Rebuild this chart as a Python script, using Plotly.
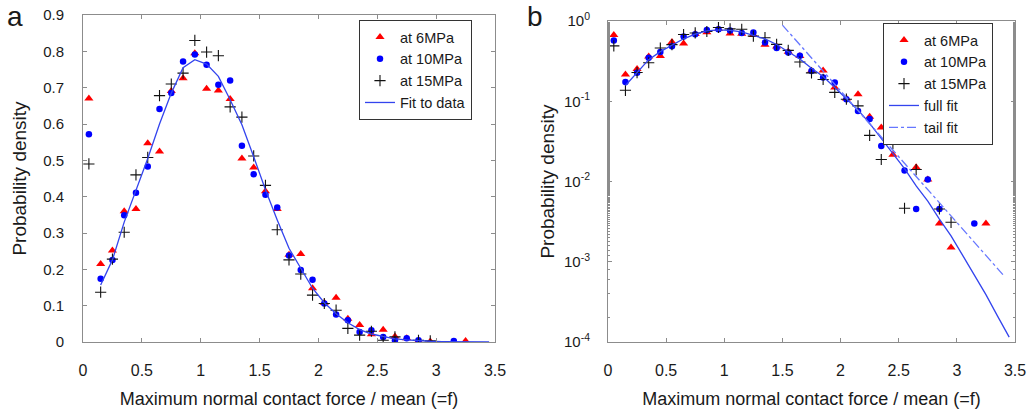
import plotly.graph_objects as go

# ---------------- data ----------------
f_bins = [0.05, 0.15, 0.25, 0.35, 0.45, 0.55, 0.65, 0.75, 0.85, 0.95,
          1.05, 1.15, 1.25, 1.35, 1.45, 1.55, 1.65, 1.75, 1.85, 1.95,
          2.05, 2.15, 2.25, 2.35, 2.45, 2.55, 2.65, 2.75, 2.85, 2.95,
          3.05, 3.15, 3.25]

p_6mpa = [0.67, 0.215, 0.252, 0.36, 0.366, 0.547, 0.524, 0.691, 0.726, 0.795,
          0.697, 0.692, 0.669, 0.505, 0.480, 0.415, 0.366, 0.240, 0.242, 0.148,
          0.108, 0.122, 0.064, 0.047, 0.0216, 0.034, 0.0151, 0.0106, 0.0030, 0.0015,
          None, None, 0.0030]

p_10mpa = [0.572, 0.174, 0.226, 0.349, 0.411, 0.483, 0.641, 0.685, 0.772, 0.791,
           0.763, 0.708, 0.720, 0.540, 0.462, 0.405, 0.370, 0.238, 0.198, 0.171,
           0.106, 0.0757, 0.060, 0.0277, 0.0326, 0.0137, 0.00455, 0.0106, 0.00455, None,
           None, 0.0030, None]

p_15mpa = [0.490, 0.137, 0.228, 0.302, 0.460, 0.508, 0.678, 0.710, 0.740, 0.830,
           0.798, 0.788, 0.647, 0.619, 0.512, 0.431, 0.309, 0.226, 0.187, 0.129,
           0.106, 0.0875, 0.0376, 0.0188, 0.0296, 0.00464, 0.0141, None, 0.00455, 0.0031,
           None, None, None]

fit_f = [0.15, 0.25, 0.35, 0.45, 0.55, 0.65, 0.75, 0.85, 0.95, 1.05,
         1.15, 1.25, 1.35, 1.45, 1.55, 1.65, 1.75, 1.85, 1.95, 2.05,
         2.15, 2.25, 2.35, 2.45, 2.55, 2.65, 2.75, 2.85, 2.95, 3.05,
         3.15, 3.25, 3.35, 3.45]
fit_p = [0.157, 0.226, 0.33, 0.415, 0.505, 0.60, 0.685, 0.755, 0.777, 0.765,
         0.731, 0.667, 0.598, 0.51, 0.419, 0.336, 0.258, 0.203, 0.148, 0.108,
         0.078, 0.053, 0.034, 0.022, 0.0145, 0.0088, 0.0057, 0.0034, 0.0021, 0.0012,
         0.00068, 0.00039, 0.00021, 0.000115]

tail_f = [1.5, 3.4]
tail_p = [0.89, 0.00068]

x_ticks = [0, 0.5, 1, 1.5, 2, 2.5, 3, 3.5]
x_ticktext = ["0", "0.5", "1", "1.5", "2", "2.5", "3", "3.5"]
lin_yticks = [0, 0.1, 0.2, 0.3, 0.4, 0.5, 0.6, 0.7, 0.8, 0.9]
lin_yticktext = ["0", "0.1", "0.2", "0.3", "0.4", "0.5", "0.6", "0.7", "0.8", "0.9"]
log_yticks = [1e-4, 1e-3, 1e-2, 1e-1, 1]
log_yticktext = ["10<sup>-4</sup>", "10<sup>-3</sup>", "10<sup>-2</sup>",
                 "10<sup>-1</sup>", "10<sup>0</sup>"]

series_names = ["at 6MPa", "at 10MPa", "at 15MPa"]

# ---------------- styles ----------------
FONT = "Liberation Sans, Arial, sans-serif"
TXT = "#1a1a1a"
AX = "#8c8c8c"
FITC = "#3344ee"
TAILC = "#6677ff"
marker_styles = [
    dict(symbol="triangle-up", size=8, color="#ff0000"),
    dict(symbol="circle", size=6.5, color="#0000ff"),
    dict(symbol="cross-thin", size=8, color="#111111", line=dict(width=1.1, color="#111111")),
]
series_vals = [p_6mpa, p_10mpa, p_15mpa]

fig = go.Figure()

for name, vals, ms in zip(series_names, series_vals, marker_styles):
    fig.add_trace(go.Scatter(x=f_bins, y=vals, mode="markers", name=name,
                             marker=ms, xaxis="x", yaxis="y", legend="legend"))
fig.add_trace(go.Scatter(x=fit_f, y=fit_p, mode="lines", name="Fit to data",
                         line=dict(color=FITC, width=1.3), xaxis="x", yaxis="y",
                         legend="legend"))

for name, vals, ms in zip(series_names, series_vals, marker_styles):
    fig.add_trace(go.Scatter(x=f_bins, y=vals, mode="markers", name=name,
                             marker=ms, xaxis="x2", yaxis="y2", legend="legend2"))
fig.add_trace(go.Scatter(x=fit_f, y=fit_p, mode="lines", name="full fit",
                         line=dict(color=FITC, width=1.3), xaxis="x2", yaxis="y2",
                         legend="legend2"))
fig.add_trace(go.Scatter(x=tail_f, y=tail_p, mode="lines", name="tail fit",
                         line=dict(color=TAILC, width=1.3, dash="dashdot"),
                         xaxis="x2", yaxis="y2", legend="legend2"))

W, H = 1034, 412
def px_x(v):
    return v / W
def px_y(v):
    return 1 - v / H

common_x = dict(range=[0, 3.5], tickvals=x_ticks, ticktext=x_ticktext,
                ticks="inside", ticklen=4, tickcolor=AX, showline=True,
                linecolor=AX, linewidth=1, mirror="ticks", showgrid=False,
                zeroline=False, automargin=False,
                tickfont=dict(size=16, color=TXT, family=FONT),
                ticklabelstandoff=14,
                title=dict(text="Maximum normal contact force / mean (=f)",
                           font=dict(size=18, color=TXT, family=FONT), standoff=14))

fig.update_layout(
    width=W, height=H,
    margin=dict(l=0, r=0, t=0, b=0),
    paper_bgcolor="white", plot_bgcolor="white",
    font=dict(family=FONT, color=TXT),
    xaxis=dict(domain=[px_x(83), px_x(495)], anchor="y", **common_x),
    yaxis=dict(domain=[px_y(342), px_y(15)], anchor="x", range=[0, 0.9],
               tickvals=lin_yticks, ticktext=lin_yticktext,
               ticks="inside", ticklen=4, tickcolor=AX, showline=True,
               linecolor=AX, linewidth=1, mirror="ticks", showgrid=False,
               zeroline=False, automargin=False,
               tickfont=dict(size=15, color=TXT, family=FONT),
               ticklabelstandoff=15,
               title=dict(text="Probability density",
                          font=dict(size=19, color=TXT, family=FONT), standoff=11)),
    xaxis2=dict(domain=[px_x(608), px_x(1015)], anchor="y2", **common_x),
    yaxis2=dict(domain=[px_y(342), px_y(21)], anchor="x2", type="log",
                range=[-4, 0], tickvals=log_yticks, ticktext=log_yticktext,
                ticks="inside", ticklen=4, tickcolor=AX, showline=True,
                linecolor=AX, linewidth=1, mirror="ticks", showgrid=False,
                zeroline=False, automargin=False,
                tickfont=dict(size=15, color=TXT, family=FONT),
                ticklabelstandoff=14,
                minor=dict(ticks="inside", ticklen=2, tickcolor=AX, showgrid=False),
                title=dict(text="Probability density",
                           font=dict(size=19, color=TXT, family=FONT), standoff=4)),
    legend=dict(x=px_x(359), y=px_y(20), xanchor="left", yanchor="top",
                bordercolor="#333333", borderwidth=1, bgcolor="white",
                font=dict(size=14.5, color=TXT, family=FONT), tracegroupgap=0,
                itemwidth=30),
    legend2=dict(x=px_x(883), y=px_y(23), xanchor="left", yanchor="top",
                 bordercolor="#333333", borderwidth=1, bgcolor="white",
                 font=dict(size=14.5, color=TXT, family=FONT), tracegroupgap=0,
                 itemwidth=30),
    showlegend=True,
    annotations=[
        dict(text="a", x=px_x(15), y=px_y(17), xref="paper", yref="paper",
             xanchor="center", yanchor="middle", showarrow=False,
             font=dict(size=28, color=TXT, family=FONT)),
        dict(text="b", x=px_x(535), y=px_y(17), xref="paper", yref="paper",
             xanchor="center", yanchor="middle", showarrow=False,
             font=dict(size=28, color=TXT, family=FONT)),
    ],
)

fig.write_html("out.html", config={"displayModeBar": False},
               post_script="document.body.style.margin='0px';document.body.style.overflow='hidden';")
